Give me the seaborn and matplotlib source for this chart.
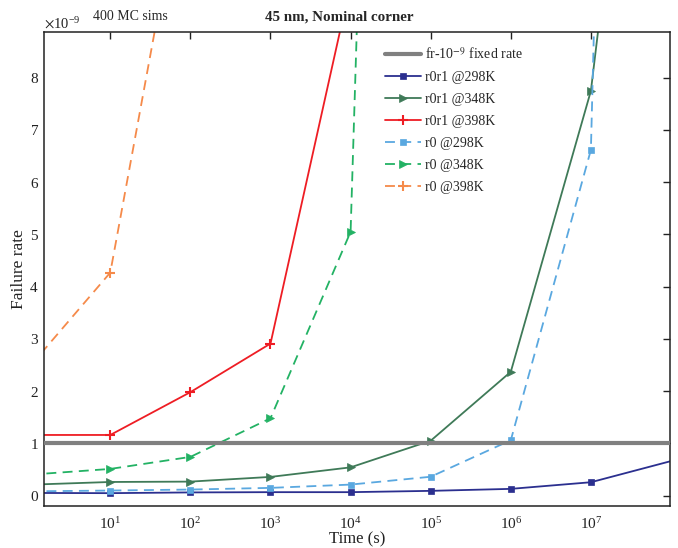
import numpy as np
import pandas as pd
import matplotlib
matplotlib.use("Agg")
import matplotlib.pyplot as plt
import matplotlib.ticker as mticker
import seaborn as sns

# ---- data (failure rate in units of 1e-9) ----
time_s = [1, 1e1, 1e2, 1e3, 1e4, 1e5, 1e6, 1e7, 1e8]
r0r1_298 = [0.05, 0.046, 0.06, 0.065, 0.065, 0.09, 0.128, 0.255, 0.66]
r0r1_348 = [0.208, 0.26, 0.267, 0.357, 0.54, 1.05, 2.37, 7.75, 20.5]
r0r1_398 = [1.16, 1.16, 1.98, 2.91, 9.8, np.nan, np.nan, np.nan, np.nan]
r0_298 = [0.081, 0.096, 0.115, 0.147, 0.21, 0.36, 1.06, 6.62, 67.0]
r0_348 = [0.40, 0.51, 0.74, 1.48, 5.05, 55.0, np.nan, np.nan, np.nan]
r0_398 = [2.48, 4.27, 12.6, np.nan, np.nan, np.nan, np.nan, np.nan, np.nan]
fixed_rate = 1.0
scale = 1e-9

x_ticks = [1e1, 1e2, 1e3, 1e4, 1e5, 1e6, 1e7]
y_ticks = [0, 1, 2, 3, 4, 5, 6, 7, 8]

series = [
    ("r0r1 @298K", r0r1_298, "#2b2f8f", "s", "-", 4.0),
    ("r0r1 @348K", r0r1_348, "#3f7a58", ">", "-", 6.0),
    ("r0r1 @398K", r0r1_398, "#ee1d24", "+", "-", 7.0),
    ("r0 @298K", r0_298, "#5aa8e0", "s", (0, (5.5, 3.5)), 4.0),
    ("r0 @348K", r0_348, "#23b264", ">", (0, (5.5, 3.5)), 6.0),
    ("r0 @398K", r0_398, "#f58a4a", "+", (0, (5.5, 3.5)), 7.0),
]

sns.set_theme(style="white")
plt.rcParams["font.family"] = ["Liberation Serif", "DejaVu Serif"]
plt.rcParams["mathtext.fontset"] = "stix"

fig = plt.figure(figsize=(6.78, 5.48), dpi=100)
ax = fig.add_axes([44.3 / 678, 1 - 506 / 548, (670.3 - 44.3) / 678, (506 - 32.3) / 548])

handles = []
h = ax.axhline(fixed_rate * scale, color="#808080", lw=3.0, label="fr-10$^{-9}$ fixed rate", zorder=3)
handles.append(h)

for label, vals, color, marker, ls, ms in series:
    df = pd.DataFrame({"t": time_s, "fr": np.array(vals) * scale}).dropna()
    n = len(df)
    mark_idx = [i for i in range(1, n) if df["t"].iloc[i] < 5e7]
    sns.lineplot(data=df, x="t", y="fr", ax=ax, color=color, marker=marker,
                 linestyle=ls, lw=1.3, markersize=ms, markeredgewidth=1.5 if marker == "+" else 0.5,
                 markeredgecolor=color, markevery=mark_idx, estimator=None, sort=False,
                 label=label)
    handles.append(ax.lines[-1])

ax.set_xscale("log")
ax.set_xlim(1.5, 9.8e7)
ax.set_ylim(-0.2 * scale, 8.87 * scale)
ax.set_xticks(x_ticks)
ax.xaxis.set_minor_locator(mticker.NullLocator())
ax.set_yticks([v * scale for v in y_ticks])
fmt = mticker.ScalarFormatter(useMathText=True)
fmt.set_powerlimits((0, 0))
ax.yaxis.set_major_formatter(fmt)

ax.tick_params(direction="in", top=True, right=True, length=5, width=1, labelsize=11, colors="#222222")
ax.tick_params(axis="x", pad=7)
ax.tick_params(axis="y", pad=4)
for sp in ax.spines.values():
    sp.set_color("#222222")
    sp.set_linewidth(1.1)
ax.yaxis.get_offset_text().set_fontsize(10.5)

ax.set_xlabel("Time (s)", fontsize=12, labelpad=0, color="#222222")
ax.set_ylabel("Failure rate", fontsize=12.5, labelpad=1.5, color="#222222")
fig.text(339.5 / 678, 1 - 17 / 548, "45 nm, Nominal corner", fontsize=10.8,
         fontweight="bold", ha="center", va="center")
fig.text(130 / 678, 1 - 17 / 548, "400 MC sims", fontsize=10, ha="center", va="center")

leg = ax.legend(handles=handles, labels=[hh.get_label() for hh in handles],
                loc="upper left", bbox_to_anchor=(379 / 678, 1 - 41 / 548),
                bbox_transform=fig.transFigure, frameon=False, fontsize=10,
                handlelength=2.6, labelspacing=0.64, handletextpad=0.3, borderaxespad=0)

fig.savefig("out.png", dpi=100)
